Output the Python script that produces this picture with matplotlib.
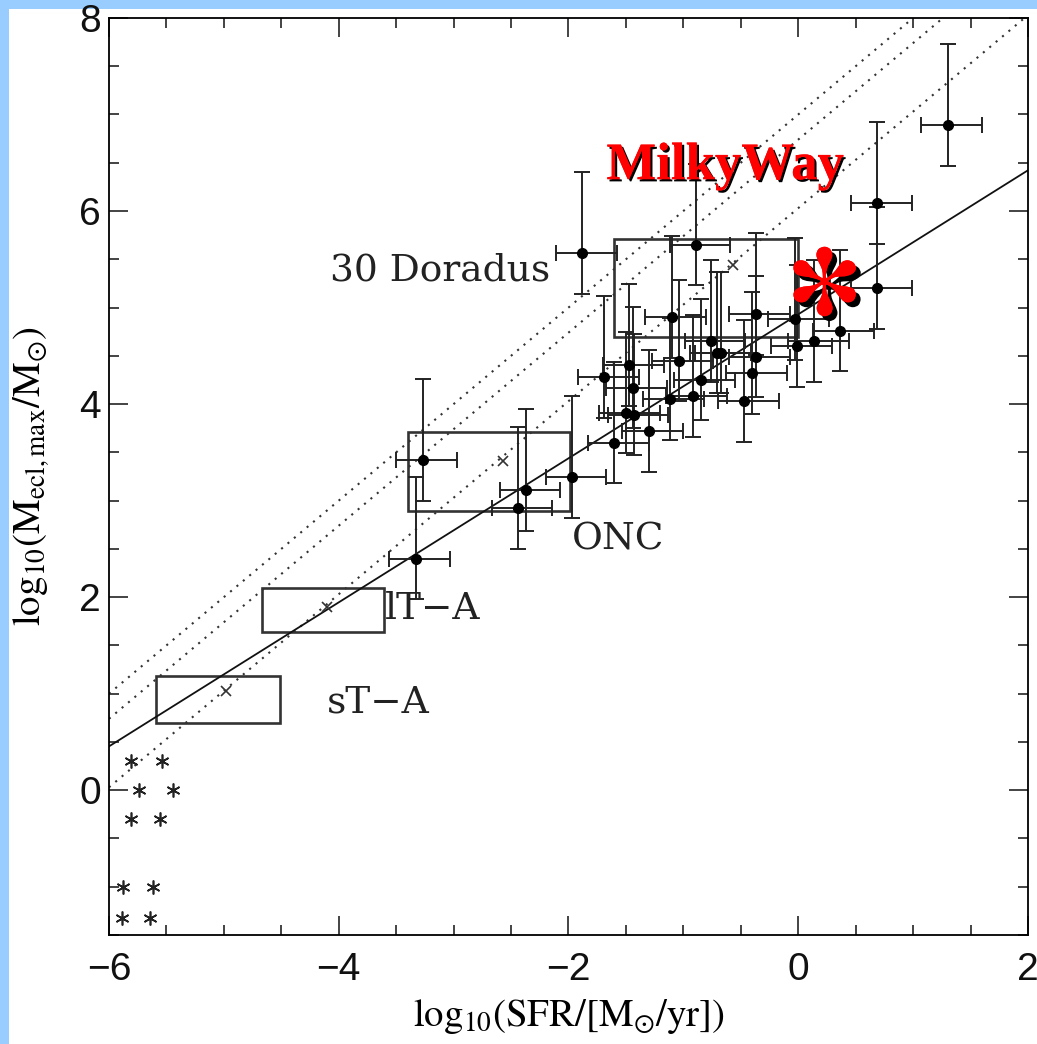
import matplotlib
matplotlib.use("Agg")
import numpy as np
import matplotlib.pyplot as plt
import matplotlib.patheffects as pe
from matplotlib.patches import Rectangle
from matplotlib.path import Path
from matplotlib.textpath import TextPath
from matplotlib.font_manager import FontProperties
from matplotlib.ticker import MultipleLocator

plt.rcParams['mathtext.fontset'] = 'stix'

# ---- galaxies: brightest young cluster vs SFR ----
sfr = [1.30, 0.69, 0.69, -1.88, -0.89, -1.10, -0.37, -0.03, 0.36, -0.76,
       -0.71, -0.67, -1.04, -0.37, -0.40, -0.01, 0.14, -0.85, -0.92, -0.47,
       -1.12, -1.69, -1.47, -1.44, -1.50, -1.43, -1.30, -1.60, -1.97, -2.37,
       -2.44, -3.27, -3.33]
mmax = [6.89, 6.08, 5.20, 5.56, 5.65, 4.90, 4.93, 4.88, 4.76, 4.65,
        4.53, 4.53, 4.45, 4.49, 4.32, 4.60, 4.65, 4.25, 4.08, 4.03,
        4.05, 4.28, 4.40, 4.17, 3.91, 3.89, 3.72, 3.60, 3.24, 3.11,
        2.92, 3.42, 2.40]
sfr_err = (0.23, 0.30)     # lower, upper
mmax_err = (0.42, 0.84)    # lower, upper

# ---- boxes (local star forming regions) ----
box_names = ['sT\u2212A', 'lT\u2212A', 'ONC', '30 Doradus']
box_x0 = [-5.59, -4.67, -3.40, -1.60]
box_x1 = [-4.51, -3.61, -1.99, 0.00]
box_y0 = [0.70, 1.64, 2.89, 4.70]
box_y1 = [1.18, 2.09, 3.71, 5.71]
cross_x = [-4.98, -4.10, -2.57, -0.57]
cross_y = [1.03, 1.90, 3.41, 5.44]
label_x = [-4.10, -3.60, -1.97, -4.08]
label_y = [0.91, 1.875, 2.60, 5.38]

# ---- small asterisks, lower left ----
ast_x = [-5.81, -5.54, -5.74, -5.44, -5.81, -5.56, -5.88, -5.62, -5.89, -5.64]
ast_y = [0.30, 0.30, 0.00, 0.00, -0.30, -0.30, -1.00, -1.00, -1.32, -1.32]

# ---- relations ----
fit_slope, fit_icpt = 0.746, 4.93
dot_icpt = [7.00, 6.74, 6.03]

mw_x, mw_y = 0.23, 5.27

fig = plt.figure(figsize=(10.37, 10.44), dpi=100)
fig.patch.set_facecolor('#99ccff')
fig.patches.append(Rectangle((9 / 1037, 0), 1, 1 - 9 / 1044, transform=fig.transFigure,
                             facecolor='white', edgecolor='none', zorder=-10))
ax = fig.add_axes([0.1051, 0.1044, 0.8862, 0.8784])

xs = np.array([-6.5, 2.5])
for c in dot_icpt:
    ax.plot(xs, xs + c, color='#333333', ls=(0, (1, 3)), lw=1.5)
ax.plot(xs, fit_slope * xs + fit_icpt, color='#111111', lw=1.3)

for x0, x1, y0, y1 in zip(box_x0, box_x1, box_y0, box_y1):
    ax.add_patch(Rectangle((x0, y0), x1 - x0, y1 - y0, fill=False, ec='#333333', lw=1.9))
ax.plot(cross_x, cross_y, ls='none', marker='x', color='#333333', ms=7, mew=1.2)
for name, lx, ly in zip(box_names, label_x, label_y):
    ax.text(lx, ly, name, family='DejaVu Serif', fontsize=27, ha='left', va='center', color='#222222')

n = len(sfr)
ax.errorbar(sfr, mmax, xerr=[[sfr_err[0]] * n, [sfr_err[1]] * n],
            yerr=[[mmax_err[0]] * n, [mmax_err[1]] * n],
            fmt='o', color='black', ecolor='#222222', ms=7, capsize=5.5, elinewidth=1.4, capthick=1.4)

ax.plot(ast_x, ast_y, ls='none', marker=(6, 2, 0), ms=10, color='#222222', mew=1.2)

# Milky Way asterisk with shadow
tp = TextPath((0, 0), '*', size=1, prop=FontProperties(family='STIXGeneral', weight='bold'))
v = tp.vertices.copy()
codes = tp.codes
real = codes != Path.CLOSEPOLY
cx = (v[real, 0].min() + v[real, 0].max()) / 2
cy = (v[real, 1].min() + v[real, 1].max()) / 2
v[:, 0] -= cx
v[:, 1] -= cy
v[~real] = 0
star = Path(v, codes)
shadow = [pe.withSimplePatchShadow(offset=(3.5, -3.5), shadow_rgbFace='black', alpha=1), pe.Normal()]
ax.plot([mw_x], [mw_y], ls='none', marker=star, ms=50, color='red', mew=0, path_effects=shadow, zorder=5)
ax.text(-1.67, 6.33, 'MilkyWay', family='Liberation Serif', weight='bold', fontsize=38, color='red',
        ha='left', va='baseline', zorder=6,
        path_effects=[pe.withSimplePatchShadow(offset=(1.6, -1.6), shadow_rgbFace='black', alpha=1), pe.Normal()])

ax.set_xlim(-6, 2)
ax.set_ylim(-1.5, 8)
ax.xaxis.set_major_locator(MultipleLocator(2))
ax.xaxis.set_minor_locator(MultipleLocator(0.5))
ax.yaxis.set_major_locator(MultipleLocator(2))
ax.yaxis.set_minor_locator(MultipleLocator(0.5))
ax.tick_params(which='both', direction='in', top=True, right=True, width=1.1, colors='#111111')
ax.tick_params(which='major', length=13.5)
ax.tick_params(which='minor', length=7)
ax.tick_params(axis='x', pad=12)
ax.tick_params(axis='y', pad=6)
for lab in ax.get_xticklabels() + ax.get_yticklabels():
    lab.set_family('Liberation Sans')
    lab.set_fontsize(28)
for s in ax.spines.values():
    s.set_linewidth(1.3)

ax.set_xlabel(r'$\mathrm{log}_{10}(\mathrm{SFR}/[\mathrm{M}_{\odot}/\mathrm{yr}])$', fontsize=28, labelpad=7)
ax.set_ylabel(r'$\mathrm{log}_{10}(\mathrm{M}_{\mathrm{ecl,max}}/\mathrm{M}_{\odot})$', fontsize=28, labelpad=20)

fig.savefig('out.png', dpi=100, facecolor=fig.get_facecolor())
